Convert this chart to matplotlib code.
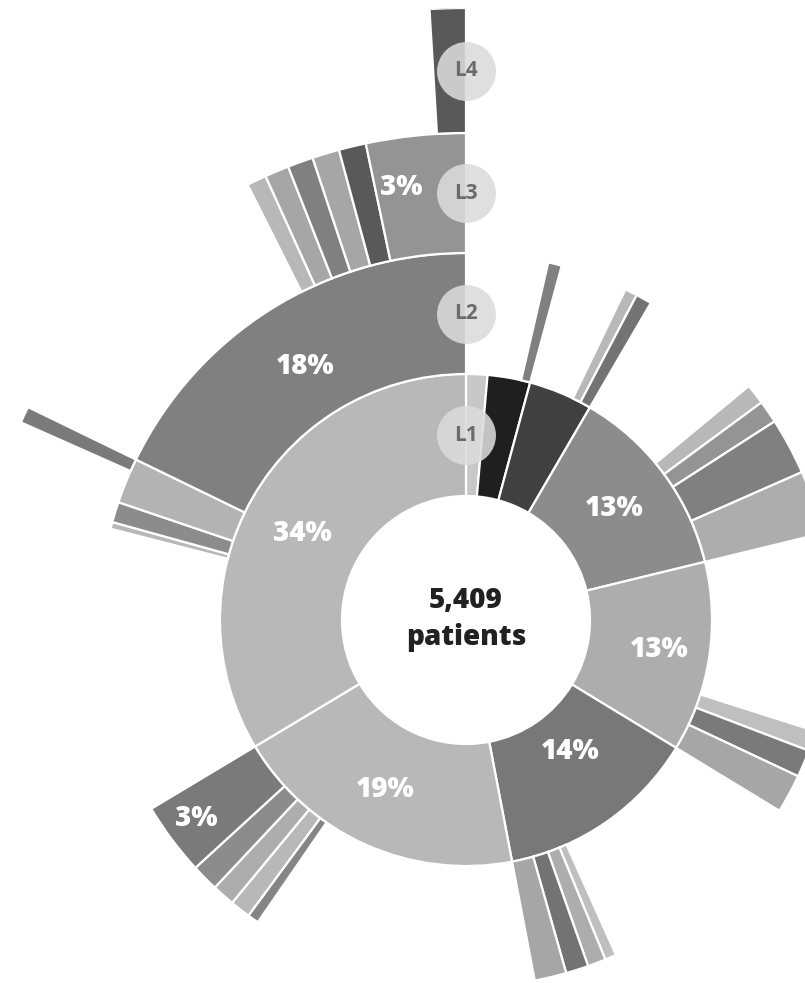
import numpy as np
import matplotlib
matplotlib.use("Agg")
from matplotlib import pyplot as plt

# ---- data (shares of all 5,409 patients, in %, clockwise from 12 o'clock) ----
l1_share = [1.4, 2.8, 4.2, 12.8, 12.5, 13.3, 19.4, 33.6]

# level 2: parent index in level 1, share
l2_parent = [1, 2, 2, 3, 3, 3, 3, 4, 4, 4, 5, 5, 5, 5, 6, 6, 6, 6, 6, 7, 7, 7, 7]
l2_share = [0.6, 0.55, 0.7, 0.9, 1.0, 2.5, 2.8, 0.9, 1.2, 1.7,
            0.5, 0.8, 1.0, 1.4, 0.5, 0.9, 1.0, 1.2, 3.2, 0.3, 0.9, 2.0, 17.8]

# level 3: parent index in level 2
l3_parent = [21, 22, 22, 22, 22, 22, 22]
l3_share = [0.55, 0.65, 0.8, 0.85, 0.9, 0.9, 3.3]

# level 4: parent index in level 3
l4_parent = [6]
l4_share = [0.95]

total_patients = "5,409"

# ---- styling ----
l1_gray = [0.78, 0.12, 0.25, 0.55, 0.68, 0.47, 0.72, 0.72]
l2_gray = [0.50, 0.72, 0.45, 0.72, 0.58, 0.50, 0.68, 0.75, 0.48, 0.65,
           0.75, 0.68, 0.45, 0.65, 0.52, 0.72, 0.68, 0.55, 0.48, 0.72, 0.55, 0.70, 0.50]
l3_gray = [0.48, 0.72, 0.65, 0.50, 0.65, 0.35, 0.58]
l4_gray = [0.35]

radii = [124, 246, 367, 487, 612]


def place_children(parents, shares, parent_start, parent_width):
    # children are packed against the clockwise end of their parent
    start = np.zeros(len(shares))
    for p in sorted(set(parents)):
        idx = [i for i, q in enumerate(parents) if q == p]
        pos = parent_start[p] + parent_width[p] - sum(shares[i] for i in idx)
        for i in idx:
            start[i] = pos
            pos += shares[i]
    return start, np.array(shares)


l1_w = np.array(l1_share)
l1_s = np.concatenate([[0], np.cumsum(l1_w)[:-1]])
l2_s, l2_w = place_children(l2_parent, l2_share, l1_s, l1_w)
l3_s, l3_w = place_children(l3_parent, l3_share, l2_s, l2_w)
l4_s, l4_w = place_children(l4_parent, l4_share, l3_s, l3_w)

W, H = 805, 983
cx, cy, R = 466, 620, radii[-1]
fig = plt.figure(figsize=(W / 100, H / 100), dpi=100)
ax = fig.add_axes([(cx - R) / W, (H - cy - R) / H, 2 * R / W, 2 * R / H],
                  projection='polar')
ax.set_theta_zero_location('N')
ax.set_theta_direction(-1)
ax.set_ylim(0, R)
ax.axis('off')

to_rad = lambda v: np.asarray(v) * 2 * np.pi / 100

levels = [(l1_s, l1_w, l1_gray), (l2_s, l2_w, l2_gray),
          (l3_s, l3_w, l3_gray), (l4_s, l4_w, l4_gray)]
for k, (s, w, g) in enumerate(levels):
    ax.bar(to_rad(s), radii[k + 1] - radii[k], width=to_rad(w), bottom=radii[k],
           align='edge', color=[str(v) for v in g], edgecolor='white',
           linewidth=1.6)

# percentage labels
pct_font = dict(family='Open Sans', weight='extra bold', color='white',
                fontsize=20, ha='center', va='center')
pct_labels = [("34%", 298, 185), ("18%", 327.5, 300), ("3%", 351.5, 437),
              ("13%", 53, 186), ("13%", 98.8, 196), ("14%", 141.5, 168),
              ("19%", 205.5, 188), ("3%", 233.7, 335)]
for txt, ang, r in pct_labels:
    ax.text(np.deg2rad(ang), r, txt, **pct_font)

# level markers
for k in range(4):
    rm = (radii[k] + radii[k + 1]) / 2
    ax.scatter([0], [rm], s=1800, color='0.86', alpha=0.88, zorder=5,
               linewidths=0)
    ax.text(0, rm, "L%d" % (k + 1), family='Open Sans', weight='bold',
            fontsize=15, color='0.42', ha='center', va='center', zorder=6)

center_font = dict(family='Open Sans', weight='extra bold', fontsize=20,
                   color='0.13', ha='center', va='center')
fig.text(cx / W, 1 - 601 / H, total_patients, **center_font)
fig.text(cx / W, 1 - 638 / H, "patients", **center_font)

fig.savefig('out.png', dpi=100, facecolor='white')
